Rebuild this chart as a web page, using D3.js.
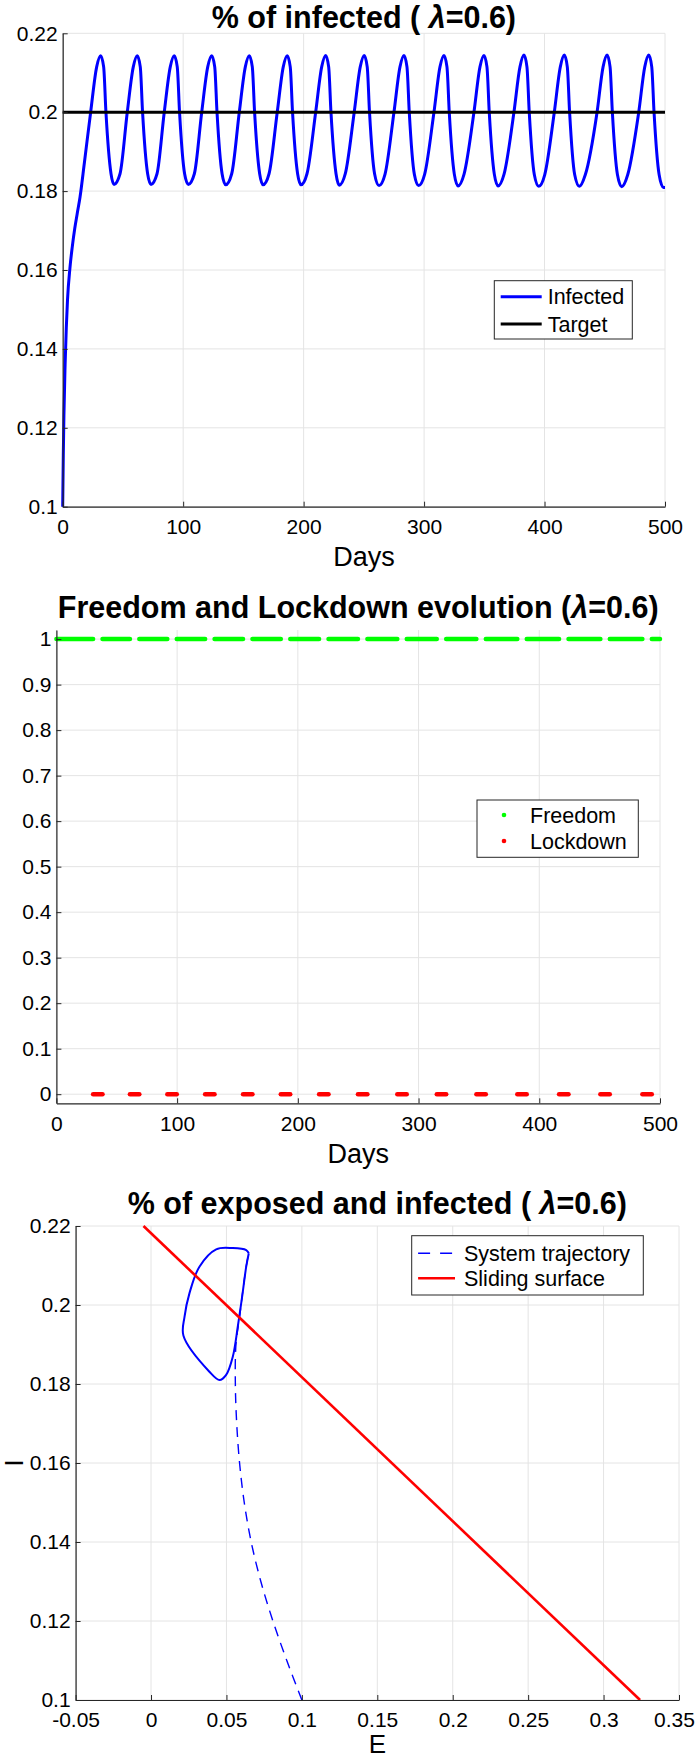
<!DOCTYPE html>
<html>
<head>
<meta charset="utf-8">
<script src="https://cdn.jsdelivr.net/npm/d3@7"></script>
<style>
body { margin: 0; background: #fff; }
text { font-family: "Liberation Sans", Arial, Helvetica, sans-serif; fill: #000; }
</style>
</head>
<body>
<script>
// ---- chart 1 : % of infected ----
var infectedDays = [
  0, 0.5, 1, 2, 3, 4, 6, 8, 10, 12, 14.4, 18, 23.2, 28.2, 31.5,
  34, 35.9, 40.1, 42.6,
  47.6, 53.6, 58.6, 61.9, 64.4, 66.3, 70.5, 73.3,
  78.3, 84.3, 89.3, 92.6, 95.1, 97, 101.2, 104.3,
  109.3, 115.4, 120.4, 123.7, 126.2, 128.1, 132.3, 135.3,
  140.3, 146.6, 151.6, 154.9, 157.4, 159.3, 163.5, 166.3,
  171.3, 178.1, 183.1, 186.4, 188.9, 190.8, 195, 197.8,
  202.8, 210, 215, 218.3, 220.8, 222.7, 226.9, 229.6,
  234.6, 242, 247, 250.3, 252.8, 254.7, 258.9, 262.6,
  267.6, 275, 280, 283.3, 285.8, 287.7, 291.9, 295.5,
  300.5, 308.2, 313.2, 316.5, 319, 320.9, 325.1, 328.2,
  333.2, 341.4, 346.4, 349.7, 352.2, 354.1, 358.3, 361.4,
  366.4, 374.6, 379.6, 382.9, 385.4, 387.3, 391.5, 395.2,
  400.2, 408.1, 413.1, 416.4, 418.9, 420.8, 425, 428.9,
  433.9, 443.6, 448.6, 451.9, 454.4, 456.3, 460.5, 464.1,
  469.1, 478.2, 483.2, 486.5, 489, 490.9, 495.1, 498.7, 500];
var infectedValues = [
  0.1, 0.113, 0.123, 0.136, 0.1455, 0.1525, 0.1605, 0.166, 0.1705, 0.1742, 0.1785, 0.1872, 0.2, 0.2115, 0.2143,
  0.2115, 0.2, 0.1844, 0.1817,
  0.1844, 0.2, 0.2115, 0.2143, 0.2115, 0.2, 0.1844, 0.1817,
  0.1844, 0.2, 0.2115, 0.2143, 0.2115, 0.2, 0.1844, 0.1817,
  0.1844, 0.2, 0.2115, 0.2143, 0.2115, 0.2, 0.1844, 0.1816,
  0.1844, 0.2, 0.2115, 0.2143, 0.2115, 0.2, 0.1844, 0.1816,
  0.1844, 0.2, 0.2115, 0.2143, 0.2115, 0.2, 0.1844, 0.1816,
  0.1844, 0.2, 0.2115, 0.2144, 0.2115, 0.2, 0.1844, 0.1815,
  0.1844, 0.2, 0.2115, 0.2144, 0.2115, 0.2, 0.1844, 0.1814,
  0.1843, 0.2, 0.2115, 0.2144, 0.2115, 0.2, 0.1843, 0.1814,
  0.1843, 0.2, 0.2115, 0.2144, 0.2115, 0.2, 0.1843, 0.1813,
  0.1843, 0.2, 0.2115, 0.2144, 0.2115, 0.2, 0.1843, 0.1813,
  0.1843, 0.2, 0.2115, 0.2145, 0.2115, 0.2, 0.1842, 0.1812,
  0.1842, 0.2, 0.2115, 0.2145, 0.2115, 0.2, 0.1842, 0.1812,
  0.1842, 0.2, 0.2115, 0.2145, 0.2115, 0.2, 0.1842, 0.1811,
  0.1842, 0.2, 0.2115, 0.2145, 0.2115, 0.2, 0.1842, 0.1809, 0.1809];
var targetValue = 0.2;

// ---- chart 2 : freedom / lockdown (lockdown periods, days) ----
var lockdownStart = [30.4, 60.9, 91.9, 123.2, 154.6, 185.9, 217.6, 249.8, 282.4, 315.1, 347.9, 381.8, 416.4, 450.6, 485.4];
var lockdownEnd   = [38.2, 68.7, 99.7, 131.0, 162.4, 193.7, 225.4, 257.6, 290.2, 322.9, 355.7, 389.6, 424.2, 458.4, 493.2];
var freedomLevel = 1, lockdownLevel = 0;

// ---- chart 3 : phase plane E / I ----
var transientE = [0.1, 0.0900, 0.0808, 0.0728, 0.0664, 0.0618, 0.0587, 0.0568, 0.0559, 0.0563, 0.0587, 0.0610, 0.0632, 0.0648];
var transientI = [0.1, 0.11, 0.12, 0.13, 0.14, 0.15, 0.16, 0.17, 0.18, 0.19, 0.197, 0.204, 0.210, 0.2131];
var loopE = [0.0648, 0.0631, 0.0542, 0.0432, 0.0321, 0.0255, 0.0222, 0.0215, 0.0387, 0.0454, 0.0498, 0.0542, 0.0575, 0.0604, 0.0631, 0.0648];
var loopI = [0.2131, 0.2139, 0.2144, 0.2141, 0.2097, 0.2030, 0.1970, 0.1922, 0.1831, 0.1810, 0.1823, 0.1869, 0.1945, 0.2021, 0.2097, 0.2131];
var surfaceE = [-0.005, 0.3242];
var surfaceI = [0.22, 0.1];

// ticks
var dayTicks = [0, 100, 200, 300, 400, 500];
var infTicks = [0.1, 0.12, 0.14, 0.16, 0.18, 0.2, 0.22];
var levelTicks = [0, 0.1, 0.2, 0.3, 0.4, 0.5, 0.6, 0.7, 0.8, 0.9, 1];
var eTicks = [-0.05, 0, 0.05, 0.1, 0.15, 0.2, 0.25, 0.3, 0.35];

var gridColor = "#e4e4e4", axisColor = "#262626";
var fmt = function(d) { return String(+d.toFixed(2)); };

var svg = d3.select("body").append("svg")
    .attr("width", 696)
    .attr("height", 1759);
svg.append("rect").attr("width", 696).attr("height", 1759).attr("fill", "#fff");

function frame(x, y, xt, yt) {
    var l = x.range()[0], r = x.range()[1], b = y.range()[0], t = y.range()[1];
    var g = svg.append("g");
    g.selectAll(null).data(xt).enter().append("line")
        .attr("x1", d => x(d)).attr("x2", d => x(d))
        .attr("y1", t).attr("y2", b)
        .attr("stroke", gridColor);
    g.selectAll(null).data(yt).enter().append("line")
        .attr("x1", l).attr("x2", r)
        .attr("y1", d => y(d)).attr("y2", d => y(d))
        .attr("stroke", gridColor);
    return g;
}

function axes(x, y, xt, yt) {
    var b = y.range()[0], l = x.range()[0];
    var ax = svg.append("g").attr("transform", "translate(0," + b + ")")
        .call(d3.axisBottom(x).tickValues(xt).tickFormat(fmt).tickSizeInner(-5).tickSizeOuter(0).tickPadding(12.5));
    var ay = svg.append("g").attr("transform", "translate(" + l + ",0)")
        .call(d3.axisLeft(y).tickValues(yt).tickFormat(fmt).tickSizeInner(-5).tickSizeOuter(0).tickPadding(5));
    [ax, ay].forEach(function(a) {
        a.select(".domain").attr("stroke", axisColor).attr("stroke-width", 1.2);
        a.selectAll(".tick line").attr("stroke", axisColor);
        a.selectAll(".tick text").attr("fill", "#000").style("font-size", "21px")
            .style("font-family", "'Liberation Sans', Arial, sans-serif");
    });
    return ax;
}

function title(cx, y, main, gap) {
    var t = svg.append("text").attr("x", cx).attr("y", y)
        .attr("text-anchor", "middle")
        .style("font-size", "30.5px").style("font-weight", "bold");
    t.append("tspan").text(main + "(" + (gap ? " " : ""));
    t.append("tspan").style("font-style", "italic").text("\u03bb");
    t.append("tspan").text("=0.6)");
}

function legend(x0, y0, w, h, items) {
    var g = svg.append("g");
    g.append("rect").attr("x", x0).attr("y", y0).attr("width", w).attr("height", h)
        .attr("fill", "#fff").attr("stroke", axisColor).attr("stroke-width", 1);
    items.forEach(function(it) {
        var cy = it.y;
        if (it.dot) {
            g.append("circle").attr("cx", x0 + 27).attr("cy", cy).attr("r", 2.3).attr("fill", it.color);
        } else {
            g.append("line").attr("x1", x0 + 6.4).attr("x2", x0 + it.len).attr("y1", cy).attr("y2", cy)
                .attr("stroke", it.color).attr("stroke-width", it.width)
                .attr("stroke-dasharray", it.dash || null);
        }
        g.append("text").attr("x", it.tx).attr("y", cy).attr("dy", "0.36em")
            .style("font-size", "21.5px").text(it.label);
    });
}

// ================= chart 1 =================
var x1 = d3.scaleLinear().domain([0, 500]).range([62.7, 665]);
var y1 = d3.scaleLinear().domain([0.1, 0.22]).range([506.7, 33.3]);
frame(x1, y1, dayTicks, infTicks);

var infected = infectedDays.map((d, i) => [d, infectedValues[i]]);
svg.append("path").datum(infected)
    .attr("fill", "none").attr("stroke", "#0000ff").attr("stroke-width", 3)
    .attr("stroke-linejoin", "round")
    .attr("d", d3.line().x(d => x1(d[0])).y(d => y1(d[1])).curve(d3.curveMonotoneX));

svg.append("line")
    .attr("x1", x1(0)).attr("x2", x1(500))
    .attr("y1", y1(targetValue)).attr("y2", y1(targetValue))
    .attr("stroke", "#000").attr("stroke-width", 3);

axes(x1, y1, dayTicks, infTicks);
title(363.9, 28, "% of infected ", true);
svg.append("text").attr("x", 363.9).attr("y", 566).attr("text-anchor", "middle")
    .style("font-size", "27px").text("Days");
legend(494.3, 280.7, 138, 58.3, [
    {label: "Infected", color: "#0000ff", width: 3, len: 47.4, tx: 547.7, y: 296.7},
    {label: "Target", color: "#000", width: 3, len: 47.4, tx: 547.7, y: 324}
]);

// ================= chart 2 =================
var x2 = d3.scaleLinear().domain([0, 500]).range([56.4, 660]);
var y2 = d3.scaleLinear().domain([-0.02, 1.02]).range([1103.3, 630]);
frame(x2, y2, dayTicks, levelTicks);

var freedom = [];
var prev = 0;
lockdownStart.forEach(function(s, i) {
    freedom.push([prev, s]);
    prev = lockdownEnd[i];
});
freedom.push([prev, 500]);

svg.append("g").selectAll("line").data(freedom).enter().append("line")
    .attr("x1", d => x2(d[0])).attr("x2", d => x2(d[1]))
    .attr("y1", y2(freedomLevel)).attr("y2", y2(freedomLevel))
    .attr("stroke", "#00ff00").attr("stroke-width", 4.5).attr("stroke-linecap", "round");

svg.append("g").selectAll("line").data(lockdownStart).enter().append("line")
    .attr("x1", d => x2(d)).attr("x2", (d, i) => x2(lockdownEnd[i]))
    .attr("y1", y2(lockdownLevel)).attr("y2", y2(lockdownLevel))
    .attr("stroke", "#ff0000").attr("stroke-width", 4.5).attr("stroke-linecap", "round");

axes(x2, y2, dayTicks, levelTicks);
title(358.2, 618, "Freedom and Lockdown evolution ", false);
svg.append("text").attr("x", 358.2).attr("y", 1163).attr("text-anchor", "middle")
    .style("font-size", "27px").text("Days");
legend(477, 800, 161.3, 57.3, [
    {label: "Freedom", color: "#00ff00", dot: true, tx: 530, y: 815},
    {label: "Lockdown", color: "#ff0000", dot: true, tx: 530, y: 841}
]);

// ================= chart 3 =================
var x3 = d3.scaleLinear().domain([-0.05, 0.35]).range([75.6, 679]);
var y3 = d3.scaleLinear().domain([0.1, 0.22]).range([1700, 1226]);
frame(x3, y3, eTicks, infTicks);

var surface = surfaceE.map((d, i) => [d, surfaceI[i]]);
var transient = transientE.map((d, i) => [d, transientI[i]]);
var loop = loopE.map((d, i) => [d, loopI[i]]);
var line3 = d3.line().x(d => x3(d[0])).y(d => y3(d[1])).curve(d3.curveCatmullRom.alpha(0.5));

svg.append("path").datum(transient)
    .attr("fill", "none").attr("stroke", "#0000ff").attr("stroke-width", 1.4)
    .attr("stroke-dasharray", "10,7").attr("d", line3);
svg.append("path").datum(loop)
    .attr("fill", "none").attr("stroke", "#0000ff").attr("stroke-width", 2)
    .attr("stroke-linejoin", "round").attr("d", line3);
svg.append("path").datum(surface)
    .attr("fill", "none").attr("stroke", "#ff0000").attr("stroke-width", 2.6)
    .attr("d", d3.line().x(d => x3(d[0])).y(d => y3(d[1])));

var ax3 = axes(x3, y3, eTicks, infTicks);
// keep the last E tick label inside the page
ax3.selectAll(".tick text").filter(d => d === 0.35).attr("dx", -5);
title(377.3, 1213.5, "% of exposed and infected ", true);
svg.append("text").attr("x", 377.3).attr("y", 1753).attr("text-anchor", "middle")
    .style("font-size", "26px").text("E");
svg.append("text").attr("transform", "translate(23,1463) rotate(-90)")
    .attr("text-anchor", "middle").style("font-size", "25px").text("I");
legend(411.7, 1235.7, 231.6, 59.3, [
    {label: "System trajectory", color: "#0000ff", width: 1.4, len: 43.3, dash: "12,10", tx: 464, y: 1253.3},
    {label: "Sliding surface", color: "#ff0000", width: 2.6, len: 43.3, tx: 464, y: 1278.3}
]);
</script>
</body>
</html>
